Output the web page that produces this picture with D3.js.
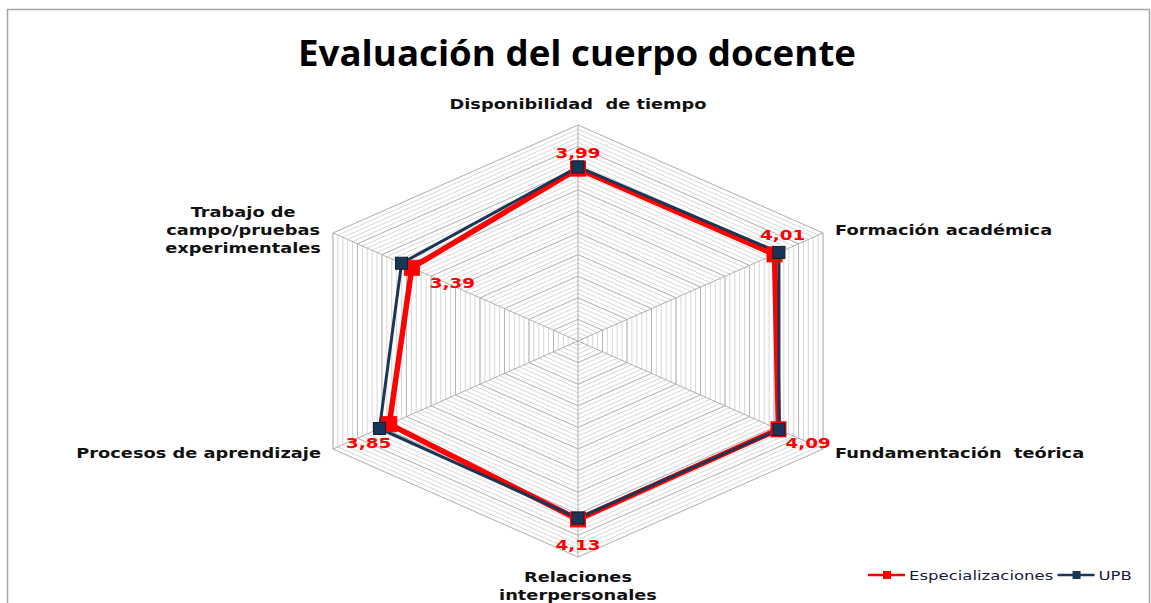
<!DOCTYPE html>
<html>
<head>
<meta charset="utf-8">
<script src="https://cdn.jsdelivr.net/npm/d3@7"></script>
<style>
  body { margin: 0; background: #fff; }
  svg { display: block; }
</style>
</head>
<body>
<div id="chart"></div>
<script>
// data
const categories = [
  ['Disponibilidad  de tiempo'],
  ['Formación académica'],
  ['Fundamentación  teórica'],
  ['Relaciones', 'interpersonales'],
  ['Procesos de aprendizaje'],
  ['Trabajo de', 'campo/pruebas', 'experimentales'],
];
const seriesNames = ['Especializaciones', 'UPB'];
const especializaciones = [3.99, 4.01, 4.09, 4.13, 3.85, 3.39];
const upb = [4.03, 4.10, 4.10, 4.10, 4.05, 3.60];
const maxValue = 5;
const majorStep = 0.5;
const minorStep = 0.1;

const width = 1151;
const height = 603;
const cx = 578;
const cy = 341;
const radius = 216;
const sx = 1.31;  // the picture is stretched horizontally
const tsx = 1.27; // text stretch

const colors = { esp: '#ff0000', upb: '#1b3556' };

const locale = d3.formatLocale({ decimal: ',', thousands: '.', grouping: [3], currency: ['', ''] });
const fmt = locale.format('.2f');

const svg = d3.select('#chart')
  .append('svg')
  .attr('width', width)
  .attr('height', height);

// chart frame
svg.append('rect')
  .attr('x', 7.5).attr('y', 9.5)
  .attr('width', 1142).attr('height', 620)
  .attr('fill', 'none')
  .attr('stroke', '#a6a6a6')
  .attr('stroke-width', 1.5);

const rScale = d3.scaleLinear().domain([0, maxValue]).range([0, radius]);
const angle = (i) => (i * 2 * Math.PI) / categories.length;
const point = (i, v) => [
  cx + Math.sin(angle(i)) * rScale(v) * sx,
  cy - Math.cos(angle(i)) * rScale(v),
];

// gridlines: minor then major
const minorLevels = d3.range(minorStep, maxValue + 1e-9, minorStep);
const majorLevels = d3.range(majorStep, maxValue + 1e-9, majorStep);
const hexPath = (lvl) => d3.line()(categories.map((_, i) => point(i, lvl))) + 'Z';

const grid = svg.append('g').attr('class', 'grid');
grid.selectAll('path.minor')
  .data(minorLevels)
  .join('path')
  .attr('class', 'minor')
  .attr('d', hexPath)
  .attr('fill', 'none')
  .attr('stroke', '#d2d2d2')
  .attr('stroke-width', 0.9);

grid.selectAll('path.major')
  .data(majorLevels)
  .join('path')
  .attr('class', 'major')
  .attr('d', hexPath)
  .attr('fill', 'none')
  .attr('stroke', '#b8b8b8')
  .attr('stroke-width', 1);

grid.selectAll('line.spoke')
  .data(categories)
  .join('line')
  .attr('class', 'spoke')
  .attr('x1', cx).attr('y1', cy)
  .attr('x2', (d, i) => point(i, maxValue)[0])
  .attr('y2', (d, i) => point(i, maxValue)[1])
  .attr('stroke', '#b0b0b0')
  .attr('stroke-width', 1);

// category labels
const labels = svg.append('g').attr('class', 'cat-labels');
const lineH = 18;
categories.forEach((lines, i) => {
  const [vx, vy] = point(i, maxValue);
  const s = Math.sin(angle(i));
  const c = Math.cos(angle(i));
  const g = labels.append('g');
  const txt = g.append('text')
    .attr('text-anchor', 'middle')
    .attr('font-family', 'DejaVu Sans, Verdana, sans-serif')
    .attr('font-weight', 'bold')
    .attr('font-size', 14)
    .attr('fill', '#111')
    .style('white-space', 'pre');
  lines.forEach((l, k) => {
    txt.append('tspan').attr('x', 0).attr('y', k * lineH).text(l);
  });
  const bb = txt.node().getBBox();
  const w = bb.width * tsx;
  const h = lines.length * lineH;
  let bx, by; // center of label block
  if (Math.abs(s) < 1e-6) {
    bx = vx;
    by = c > 0 ? vy - 12 - h / 2 : vy + 11 + h / 2;
  } else {
    bx = vx + Math.sign(s) * (12 + w / 2);
    by = vy + (c > 0 ? -3 : 4);
  }
  const ty = by - h / 2 + lineH / 2 + 5;
  g.attr('transform', `translate(${bx},${ty}) scale(${tsx},1)`);
});

// series
const lineGen = d3.line().curve(d3.curveLinearClosed);
const series = [
  { name: seriesNames[0], values: especializaciones, color: colors.esp, width: 5.5, marker: 15, stroke: colors.esp },
  { name: seriesNames[1], values: upb, color: colors.upb, width: 3, marker: 12, stroke: '#0e1f36' },
];

series.forEach((s) => {
  const pts = s.values.map((v, i) => point(i, v));
  svg.append('path')
    .attr('d', lineGen(pts))
    .attr('fill', 'none')
    .attr('stroke', s.color)
    .attr('stroke-width', s.width)
    .attr('stroke-linejoin', 'miter');
});

series.forEach((s) => {
  const pts = s.values.map((v, i) => point(i, v));
  svg.append('g')
    .selectAll('rect')
    .data(pts)
    .join('rect')
    .attr('x', (d) => d[0] - s.marker / 2)
    .attr('y', (d) => d[1] - s.marker / 2)
    .attr('width', s.marker)
    .attr('height', s.marker)
    .attr('fill', s.color)
    .attr('stroke', s.stroke)
    .attr('stroke-width', 1);
});

// value labels of Especializaciones
const labelOffsets = [
  { dx: 0, dy: -11, anchor: 'middle' },
  { dx: 8, dy: -14, anchor: 'middle' },
  { dx: 7, dy: 19, anchor: 'start' },
  { dx: 0, dy: 31, anchor: 'middle' },
  { dx: 2, dy: 24, anchor: 'end' },
  { dx: 18, dy: 20, anchor: 'start' },
];
svg.append('g')
  .selectAll('text')
  .data(especializaciones)
  .join('text')
  .attr('transform', (d, i) => {
    const [px, py] = point(i, d);
    return `translate(${px + labelOffsets[i].dx},${py + labelOffsets[i].dy}) scale(${sx},1)`;
  })
  .attr('text-anchor', (d, i) => labelOffsets[i].anchor)
  .attr('font-family', 'DejaVu Sans, Verdana, sans-serif')
  .attr('font-weight', 'bold')
  .attr('font-size', 14)
  .attr('fill', colors.esp)
  .text((d) => fmt(d));

// title
svg.append('text')
  .attr('x', 577)
  .attr('y', 66)
  .attr('text-anchor', 'middle')
  .attr('font-family', '"Open Sans", Lato, sans-serif')
  .attr('font-weight', 700)
  .attr('font-size', 36)
  .attr('textLength', 558)
  .attr('lengthAdjust', 'spacingAndGlyphs')
  .attr('fill', '#000')
  .text('Evaluación del cuerpo docente');

// legend
const legend = svg.append('g').attr('transform', 'translate(868,575)');
let lx = 0;
series.forEach((s) => {
  const item = legend.append('g').attr('transform', `translate(${lx},0)`);
  item.append('line')
    .attr('x1', 0).attr('x2', 37)
    .attr('y1', 0).attr('y2', 0)
    .attr('stroke', s.color)
    .attr('stroke-width', 2.5);
  item.append('rect')
    .attr('x', 15).attr('y', -4)
    .attr('width', 8).attr('height', 8)
    .attr('fill', s.color);
  const t = item.append('text')
    .attr('transform', `translate(41,5) scale(${tsx},1)`)
    .attr('font-family', 'DejaVu Sans, Verdana, sans-serif')
    .attr('font-size', 13)
    .attr('fill', '#1a1a40')
    .text(s.name);
  lx += 41 + t.node().getBBox().width * tsx + 4;
});
</script>
</body>
</html>
